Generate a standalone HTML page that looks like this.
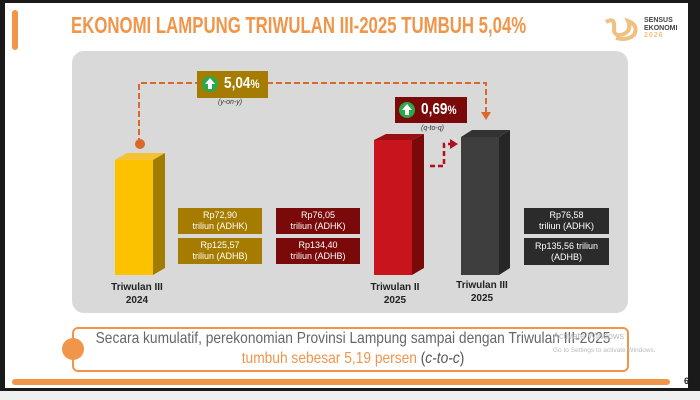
<!DOCTYPE html>
<html><head><style>
body{margin:0;width:700px;height:400px;overflow:hidden;background:#f0f0f0;font-family:"Liberation Sans",sans-serif;}
.frame{position:absolute;left:0;top:0;width:700px;height:391px;background:#1a1a1a;}
.slide{position:absolute;left:5px;top:3px;width:683px;height:385px;background:#fff;}
.a{position:absolute;}
.c{position:absolute;white-space:nowrap;transform-origin:center;}
.box{position:absolute;color:#fff;font-size:9px;text-align:center;line-height:11px;display:flex;align-items:center;justify-content:center;}
.lbl{position:absolute;font-size:10px;font-weight:bold;text-align:center;line-height:13px;color:#222;width:80px;}
</style></head><body>
<div class="frame"></div>
<div class="slide"></div>
<div class="a" style="left:12px;top:10px;width:6px;height:40px;background:#f0954a;border-radius:3px"></div>
<div class="a" style="left:71px;top:12px;font-size:23px;font-weight:bold;color:#f0954a;transform:scaleX(0.73);transform-origin:left;white-space:nowrap">EKONOMI LAMPUNG TRIWULAN III-2025 TUMBUH 5,04%</div>
<div class="a" style="left:603px;top:17px;width:40px;height:24px;">
<svg width="40" height="24"><path d="M3 5 Q12 0 11 10 Q10 21 21 17 Q29 13 25 4 Q36 8 31 18 Q24 24 13 21" fill="none" stroke="#f0c080" stroke-width="4"/></svg></div>
<div class="a" style="left:644px;top:17px;font-size:7px;line-height:7.5px;color:#444;font-weight:bold">SENSUS<br>EKONOMI<br><span style="color:#f0c080;letter-spacing:1px">2026</span></div>
<div class="a" style="left:72px;top:51px;width:556px;height:262px;background:#d9d9d9;border-radius:12px"></div>
<svg class="a" style="left:0;top:0" width="700" height="400">
<path d="M139 144 V83 H486 V113" fill="none" stroke="#d9692a" stroke-width="2" stroke-dasharray="6,3"/>
<polygon points="481,112 491,112 486,120" fill="#d9692a"/>
<circle cx="140" cy="144" r="5" fill="#d9692a"/>
<path d="M430 166 H444 V144 H450" fill="none" stroke="#b0101a" stroke-width="2.5" stroke-dasharray="5,3"/>
<polygon points="450,139 458,144 450,149" fill="#b0101a"/>
<polygon points="115,160 153,160 165,153 127,153" fill="#f5c233"/>
<polygon points="153,160 165,153 165,268 153,275" fill="#a07d00"/>
<rect x="115" y="160" width="38" height="115" fill="#fcc200"/>
<polygon points="374,140 412,140 424,134 386,134" fill="#9a1010"/>
<polygon points="412,140 424,134 424,268 412,275" fill="#7a0a0a"/>
<rect x="374" y="140" width="38" height="135" fill="#c8141c"/>
<polygon points="461,137 499,137 510,130 472,130" fill="#333"/>
<polygon points="499,137 510,130 510,268 499,275" fill="#262626"/>
<rect x="461" y="137" width="38" height="138" fill="#3e3e3e"/>
<rect x="197" y="71" width="71" height="27" fill="#a67c00"/>
<circle cx="210" cy="84" r="8" fill="#2aa84a"/>
<rect x="395" y="97" width="72" height="26" fill="#7a0a0a"/>
<circle cx="407" cy="110" r="8" fill="#2aa84a"/>
<polygon points="210,78 215,84 212,84 212,89 208,89 208,84 205,84" fill="#fff"/>
<polygon points="407,104 412,110 409,110 409,115 405,115 405,110 402,110" fill="#fff"/>
</svg>
<div class="a" style="left:224px;top:75px;font-size:16px;color:#fff;font-weight:bold;transform:scaleX(0.85);transform-origin:left">5,04<span style="font-size:12px">%</span></div>
<div class="a" style="left:421px;top:101px;font-size:16px;color:#fff;font-weight:bold;transform:scaleX(0.85);transform-origin:left">0,69<span style="font-size:12px">%</span></div>
<div class="a" style="left:218px;top:99px;font-size:7px;font-style:italic;color:#333">(y-on-y)</div>
<div class="a" style="left:421px;top:125px;font-size:7px;font-style:italic;color:#333">(q-to-q)</div>
<div class="box" style="left:178px;top:208px;width:84px;height:26px;background:#a67c00">Rp72,90<br>triliun (ADHK)</div>
<div class="box" style="left:178px;top:238px;width:84px;height:26px;background:#a67c00">Rp125,57<br>triliun (ADHB)</div>
<div class="box" style="left:276px;top:208px;width:84px;height:26px;background:#7a0a0a">Rp76,05<br>triliun (ADHK)</div>
<div class="box" style="left:276px;top:238px;width:84px;height:26px;background:#7a0a0a">Rp134,40<br>triliun (ADHB)</div>
<div class="box" style="left:524px;top:208px;width:85px;height:26px;background:#2b2b2b">Rp76,58<br>triliun (ADHK)</div>
<div class="box" style="left:524px;top:238px;width:85px;height:27px;background:#2b2b2b">Rp135,56 triliun<br>(ADHB)</div>
<div class="lbl" style="left:97px;top:281px">Triwulan III<br>2024</div>
<div class="lbl" style="left:355px;top:281px">Triwulan II<br>2025</div>
<div class="lbl" style="left:442px;top:279px">Triwulan III<br>2025</div>
<div class="a" style="left:72px;top:327px;width:553px;height:41px;border:2px solid #f0954a;border-radius:6px"></div>
<div class="a" style="left:62px;top:338px;width:22px;height:22px;border-radius:50%;background:#f0954a"></div>
<div class="c" style="left:353px;top:330px;font-size:16px;color:#666;transform:translateX(-50%) scaleX(0.86)">Secara kumulatif, perekonomian Provinsi Lampung sampai dengan Triwulan III-2025</div>
<div class="c" style="left:353px;top:350px;font-size:16px;color:#f0954a;transform:translateX(-50%) scaleX(0.86)">tumbuh sebesar 5,19 persen <span style="color:#555">(<i>c-to-c</i>)</span></div>
<div class="a" style="left:553px;top:331px;font-size:9px;color:#bbb">Activate Windows</div>
<div class="a" style="left:553px;top:347px;font-size:6.5px;color:#bbb">Go to Settings to activate Windows.</div>
<div class="a" style="left:12px;top:379px;width:658px;height:6px;background:#f0954a;border-radius:3px"></div>
<div class="a" style="left:684px;top:376px;font-size:9px;font-weight:bold;color:#222">6</div>
</body></html>
